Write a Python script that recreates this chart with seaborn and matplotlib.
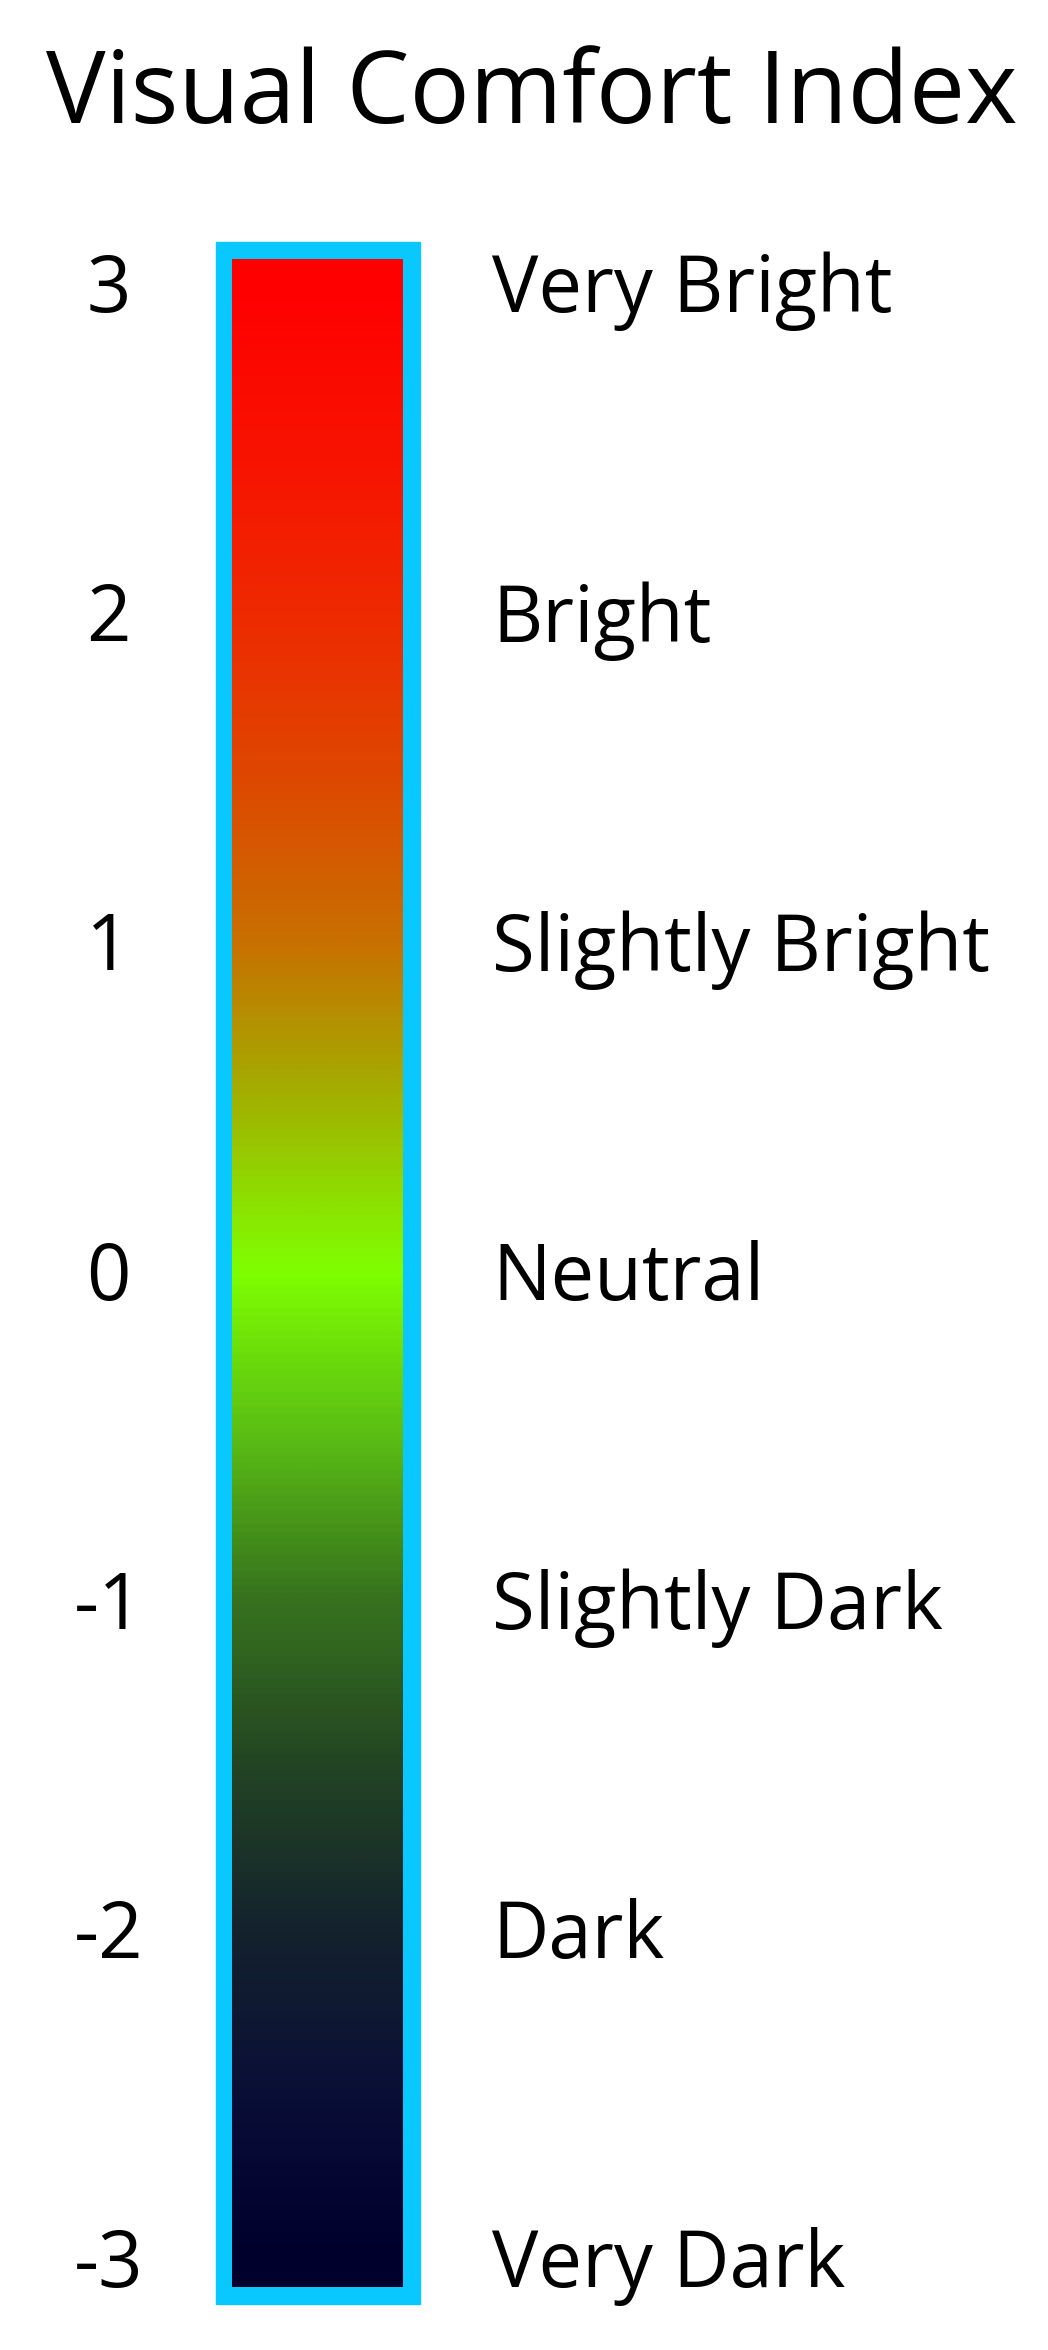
import numpy as np
import matplotlib.pyplot as plt
import seaborn as sns
from matplotlib.colors import LinearSegmentedColormap
from matplotlib.patches import Rectangle

# Данные шкалы
levels = [3, 2, 1, 0, -1, -2, -3]
level_text = ['3', '2', '1', '0', '-1', '-2', '-3']
level_names = ['Very Bright', 'Bright', 'Slightly Bright', 'Neutral',
               'Slightly Dark', 'Dark', 'Very Dark']
stop_values = [-3, -2.5, -2, -1.5, -1, -0.5, 0, 0.5, 1, 1.5, 2, 2.5, 3]
stop_colors = ['#00002d', '#0a0f37', '#14232d', '#234623', '#37731e',
               '#5abe14', '#7fff00', '#a0b400', '#c87000', '#de4800',
               '#ee2a00', '#f81200', '#ff0000']
title = 'Visual Comfort Index'

sns.set_style('white')
plt.rcParams['font.family'] = ['Open Sans', 'DejaVu Sans']
plt.rcParams['text.color'] = 'black'
plt.rcParams['ytick.color'] = 'black'

W, H = 1048, 2350
fig = plt.figure(figsize=(W / 100, H / 100), dpi=100)

# рамка
fig.patches.append(Rectangle((216 / W, 1 - 2304 / H), (420 - 216) / W, (2304 - 242) / H,
                             transform=fig.transFigure, color='#08c8ff', zorder=-1))

ax = fig.add_axes([232 / W, 1 - 2287 / H, (403 - 232) / W, (2287 - 259) / H])
ylo, yhi = -3.09, 3.07
span = stop_values[-1] - stop_values[0]
cmap = LinearSegmentedColormap.from_list(
    'vci', [((v - stop_values[0]) / span, c) for v, c in zip(stop_values, stop_colors)])
grad = np.linspace(ylo, yhi, 800).reshape(-1, 1)
ax.imshow(grad, cmap=cmap, vmin=stop_values[0], vmax=stop_values[-1],
          aspect='auto', origin='lower', extent=[0, 1, ylo, yhi])
ax.set_ylim(ylo, yhi)
ax.set_xticks([])
ax.set_yticks(levels)
ax.set_yticklabels(level_text, ha='center', fontsize=56, color='black')
ax.tick_params(axis='y', length=0, pad=89)
for s in ax.spines.values():
    s.set_visible(False)

ax2 = ax.twinx()
ax2.set_ylim(ylo, yhi)
ax2.set_yticks(levels)
ax2.set_yticklabels(level_names, fontsize=56, color='black')
ax2.tick_params(axis='y', length=0, pad=64)
for s in ax2.spines.values():
    s.set_visible(False)

fig.text(532 / W, 1 - 123 / H, title, ha='center', va='baseline', fontsize=72,
         color='black')

fig.savefig('out.png', dpi=100, facecolor='white')
